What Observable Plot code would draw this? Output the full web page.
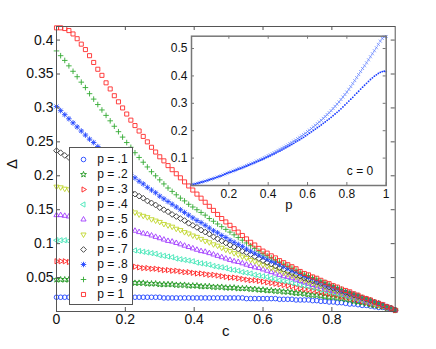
<!DOCTYPE html>
<html>
<head>
<meta charset="utf-8">
<script src="https://cdn.jsdelivr.net/npm/d3@7"></script>
<script src="https://cdn.jsdelivr.net/npm/@observablehq/plot@0.6"></script>
<style>
  html, body { margin: 0; padding: 0; background: white; }
  #wrap { position: relative; width: 436px; height: 349px; overflow: hidden; font-family: "Liberation Sans", Arial, sans-serif; }
  #wrap svg { position: absolute; }
</style>
</head>
<body>
<div id="wrap"></div>
<script>
// ---------------- data ----------------
const cValues = [0,.012,.024,.036,.048,.06,.072,.084,.096,.108,.12,.132,.144,.156,.168,.18,.192,.204,.216,.228,.24,.252,.264,.276,.288,.3,.312,.324,.336,.348,.36,.372,.384,.396,.408,.42,.432,.444,.456,.468,.48,.492,.504,.516,.528,.54,.552,.564,.576,.588,.6,.612,.624,.636,.648,.66,.672,.684,.696,.708,.72,.732,.744,.756,.768,.78,.792,.804,.816,.828,.84,.852,.864,.876,.888,.9,.912,.924,.936,.948,.96,.972,.984];

const deltaP01 = [.021,.021,.021,.021,.021,.021,.021,.021,.021,.021,.021, .021,.021,.021,.021,.021,.021,.021,.021,.021,.021, .021,.021,.021,.021,.021,.020,.020,.020,.020,.020, .020,.020,.020,.020,.020,.020,.020,.020,.020,.020, .020,.020,.020,.020,.020,.019,.019,.019,.019,.019, .019,.019,.019,.018,.018,.018,.018,.017,.017,.017, .017,.016,.016,.015,.015,.014,.014,.013,.013,.012, .011,.011,.010,.009,.009,.008,.007,.006,.006,.005,.003,.002];
const deltaP02 = [.047,.047,.047,.047,.046,.046,.046,.046,.046,.045,.045, .045,.045,.044,.044,.044,.043,.043,.043,.042,.042, .042,.041,.041,.041,.040,.040,.040,.040,.039,.039, .039,.038,.038,.038,.037,.037,.037,.036,.036,.036, .035,.035,.035,.034,.034,.034,.033,.033,.032,.032, .031,.031,.030,.030,.029,.029,.028,.027,.027,.026, .025,.024,.024,.023,.022,.021,.021,.020,.019,.018, .017,.015,.014,.013,.012,.010,.009,.008,.007,.005,.004,.002];
const deltaP03 = [.074,.074,.074,.073,.073,.073,.072,.072,.072,.071,.071, .070,.070,.069,.069,.068,.068,.067,.066,.066,.065, .064,.064,.063,.063,.062,.061,.061,.060,.060,.059, .058,.058,.057,.056,.056,.055,.054,.054,.053,.052, .051,.050,.050,.049,.048,.047,.046,.046,.045,.044, .043,.042,.041,.040,.039,.038,.037,.035,.034,.033, .032,.031,.030,.028,.027,.026,.025,.024,.022,.021, .020,.018,.017,.015,.014,.012,.011,.009,.008,.006,.004,.002];
const deltaP04 = [.105,.105,.105,.104,.104,.103,.103,.102,.101,.101,.100, .099,.098,.097,.096,.095,.094,.093,.092,.090,.089, .088,.087,.086,.085,.083,.082,.081,.080,.078,.077, .076,.075,.074,.072,.071,.070,.069,.067,.066,.065, .064,.062,.061,.060,.058,.057,.056,.054,.053,.052, .051,.049,.048,.046,.045,.044,.042,.041,.039,.038, .037,.035,.034,.032,.031,.029,.028,.026,.025,.023, .021,.020,.018,.016,.015,.013,.011,.010,.008,.006,.004,.002];
const deltaP05 = [.142,.142,.141,.140,.140,.139,.138,.137,.136,.134,.133, .132,.130,.129,.127,.126,.124,.122,.121,.119,.117, .115,.114,.112,.110,.108,.106,.104,.103,.101,.099, .097,.095,.093,.091,.089,.088,.086,.084,.082,.080, .078,.076,.074,.073,.071,.069,.067,.065,.064,.062, .060,.058,.056,.054,.052,.051,.049,.047,.045,.043, .041,.039,.038,.036,.034,.032,.030,.029,.027,.025, .023,.021,.019,.017,.015,.013,.012,.010,.008,.006,.004,.002];
const deltaP06 = [.184,.183,.181,.180,.178,.177,.175,.174,.172,.170,.169, .166,.164,.161,.158,.156,.153,.151,.148,.146,.143, .141,.139,.136,.134,.132,.129,.127,.125,.122,.120, .117,.115,.112,.110,.107,.104,.102,.099,.097,.094, .091,.089,.086,.084,.081,.079,.076,.074,.071,.069, .067,.064,.062,.060,.057,.055,.053,.051,.048,.046, .044,.042,.040,.038,.036,.034,.032,.030,.028,.026, .024,.022,.020,.018,.016,.014,.012,.010,.008,.006,.004,.002];
const deltaP07 = [.237,.234,.230,.227,.223,.220,.217,.213,.210,.206,.203, .200,.196,.193,.190,.186,.183,.180,.176,.173,.170, .167,.163,.160,.157,.153,.150,.147,.143,.140,.137, .134,.130,.127,.124,.120,.117,.114,.110,.107,.104, .101,.098,.095,.092,.089,.087,.084,.081,.078,.075, .072,.070,.067,.064,.062,.059,.057,.054,.052,.049, .047,.045,.043,.041,.038,.036,.034,.032,.030,.028, .026,.024,.022,.020,.018,.016,.014,.012,.009,.007,.005,.002];
const deltaP08 = [.302,.296,.290,.284,.278,.272,.266,.260,.254,.249,.243, .238,.232,.227,.222,.217,.212,.207,.202,.197,.192, .188,.183,.179,.175,.170,.166,.162,.158,.154,.150, .146,.142,.138,.134,.131,.127,.123,.119,.116,.112, .109,.105,.102,.099,.096,.092,.089,.086,.083,.080, .077,.074,.072,.069,.066,.063,.060,.058,.055,.052, .050,.048,.045,.043,.040,.038,.036,.034,.031,.029, .027,.025,.023,.020,.018,.016,.014,.012,.010,.007,.005,.002];
const deltaP09 = [.384,.377,.370,.362,.354,.346,.338,.330,.321,.313,.305, .297,.289,.281,.273,.265,.257,.249,.242,.234,.227, .220,.213,.206,.200,.194,.188,.182,.177,.172,.167, .163,.158,.154,.150,.146,.142,.137,.133,.129,.125, .121,.117,.113,.109,.105,.101,.097,.093,.089,.085, .082,.079,.076,.073,.070,.067,.064,.061,.058,.055, .053,.050,.048,.045,.043,.040,.038,.035,.033,.030, .028,.026,.024,.021,.019,.017,.014,.012,.010,.007,.005,.002];
const deltaP10 = [.418,.418,.417,.414,.409,.402,.394,.386,.377,.367,.357, .348,.337,.328,.318,.309,.300,.291,.282,.274,.266, .258,.250,.242,.235,.228,.222,.215,.209,.203,.197, .191,.185,.179,.173,.167,.161,.155,.149,.143,.137, .132,.127,.122,.117,.112,.107,.102,.098,.093,.089, .086,.082,.079,.075,.072,.069,.066,.063,.059,.056, .054,.051,.049,.046,.043,.041,.038,.036,.033,.031, .029,.026,.024,.021,.019,.017,.014,.012,.010,.007,.005,.002];

const seriesLabels = ["p = .1","p = .2","p = .3","p = .4","p = .5","p = .6","p = .7","p = .8","p = .9","p = 1"];
const seriesValues = [deltaP01, deltaP02, deltaP03, deltaP04, deltaP05, deltaP06, deltaP07, deltaP08, deltaP09, deltaP10];
const seriesColors = ["#2346ff","#229922","#ff2222","#44e6b8","#a23cff","#bfd62a","#3a3a3a","#2346ff","#33aa33","#ff2a2a"];
const seriesMarkers = ["circle","pentagram","triRight","triLeft","triUp","triDown","diamond","asterisk","plus","square"];

const mainXTicks = [0, 0.2, 0.4, 0.6, 0.8];
const mainYTicks = [0.05, 0.1, 0.15, 0.2, 0.25, 0.3, 0.35, 0.4];

// inset: Delta vs p at c = 0
const pValues = [.01,.02,.03,.04,.05,.06,.07,.08,.09,.10,.11,.12,.13,.14,.15,.16,.17,.18,.19,.20,.21,.22,.23,.24,.25,.26,.27,.28,.29,.30,.31,.32,.33,.34,.35,.36,.37,.38,.39,.40,.41,.42,.43,.44,.45,.46,.47,.48,.49,.50,.51,.52,.53,.54,.55,.56,.57,.58,.59,.60,.61,.62,.63,.64,.65,.66,.67,.68,.69,.70,.71,.72,.73,.74,.75,.76,.77,.78,.79,.80,.81,.82,.83,.84,.85,.86,.87,.88,.89,.90,.91,.92,.93,.94,.95,.96,.97,.98,.99,1];
const insetLower = [.002,.004,.006,.008,.010,.012,.014,.016,.018,.021, .023,.025,.028,.030,.033,.035,.038,.041,.044,.047, .049,.052,.054,.057,.060,.062,.065,.068,.071,.074, .077,.080,.083,.086,.089,.092,.095,.098,.102,.105, .108,.112,.115,.119,.123,.126,.130,.134,.138,.142, .146,.150,.154,.159,.163,.167,.172,.176,.181,.186, .191,.196,.201,.206,.211,.216,.221,.227,.232,.238, .243,.249,.255,.261,.267,.273,.280,.287,.294,.301, .308,.315,.322,.330,.337,.344,.352,.359,.366,.373, .380,.387,.393,.399,.404,.409,.413,.416,.417,.416];
const insetUpper = [.002,.004,.006,.008,.010,.012,.014,.016,.019,.021, .023,.026,.028,.031,.033,.036,.039,.042,.045,.048, .050,.053,.056,.059,.062,.064,.067,.070,.073,.076, .079,.082,.085,.089,.092,.095,.098,.102,.105,.109, .112,.116,.120,.124,.128,.132,.136,.140,.144,.148, .153,.157,.162,.166,.171,.176,.181,.186,.191,.197, .202,.208,.214,.220,.226,.232,.238,.245,.252,.259, .266,.273,.281,.289,.297,.305,.314,.323,.332,.341, .351,.361,.372,.383,.394,.405,.416,.427,.437,.448, .459,.470,.481,.492,.503,.515,.527,.537,.543,.544];
const insetXTicks = [0.2, 0.4, 0.6, 0.8, 1];
const insetYTicks = [0.1, 0.2, 0.3, 0.4, 0.5];

// ---------------- marker shapes ----------------
function poly(angles, k) {
  return { draw(ctx, size) {
    const R = Math.sqrt(size / Math.PI) * k;
    angles.forEach((a, i) => {
      const t = a * Math.PI / 180, x = R * Math.cos(t), y = R * Math.sin(t);
      i ? ctx.lineTo(x, y) : ctx.moveTo(x, y);
    });
    ctx.closePath();
  }};
}
const symbols = {
  circle: "circle",
  triUp: poly([-90, 30, 150], 1.3),
  triDown: poly([90, 210, 330], 1.3),
  triRight: poly([0, 120, 240], 1.3),
  triLeft: poly([180, 300, 60], 1.3),
  diamond: poly([-90, 0, 90, 180], 1.25),
  square: poly([-45, 45, 135, 225], 1.25),
  pentagram: { draw(ctx, size) {
    const R = Math.sqrt(size / Math.PI) * 1.35, r = R * 0.4;
    for (let i = 0; i < 10; i++) {
      const t = (-90 + i * 36) * Math.PI / 180, rr = i % 2 ? r : R;
      i ? ctx.lineTo(rr * Math.cos(t), rr * Math.sin(t)) : ctx.moveTo(rr * Math.cos(t), rr * Math.sin(t));
    }
    ctx.closePath();
  }},
  plus: { draw(ctx, size) {
    const R = Math.sqrt(size / Math.PI) * 1.2;
    ctx.moveTo(-R, 0); ctx.lineTo(R, 0); ctx.moveTo(0, -R); ctx.lineTo(0, R);
  }},
  asterisk: { draw(ctx, size) {
    const R = Math.sqrt(size / Math.PI) * 1.2, d = R * 0.72;
    ctx.moveTo(-R, 0); ctx.lineTo(R, 0); ctx.moveTo(0, -R); ctx.lineTo(0, R);
    ctx.moveTo(-d, -d); ctx.lineTo(d, d); ctx.moveTo(-d, d); ctx.lineTo(d, -d);
  }},
  times: { draw(ctx, size) {
    const R = Math.sqrt(size / Math.PI);
    ctx.moveTo(-R, -R); ctx.lineTo(R, R); ctx.moveTo(-R, R); ctx.lineTo(R, -R);
  }}
};

const FONT = '"Liberation Sans", Arial, Helvetica, sans-serif';
const fmt = d => String(d);
const AX = "#555";

// ---------------- main chart ----------------
const W = 436, H = 349, mL = 56, mR = 41.3, mT = 26, mB = 38;
const innerW = W - mL - mR, innerH = H - mT - mB;

const mainMarks = [];
seriesValues.forEach((vals, k) => {
  mainMarks.push(Plot.dot(cValues, {
    x: cValues, y: vals, symbol: symbols[seriesMarkers[k]], r: 2.3,
    stroke: seriesColors[k], fill: "none", strokeWidth: 0.9
  }));
});
mainMarks.push(
  Plot.tickX(mainXTicks, {x: d => d, insetTop: innerH - 4, stroke: AX}),
  Plot.tickX(mainXTicks, {x: d => d, insetBottom: innerH - 4, stroke: AX}),
  Plot.tickY(mainYTicks, {y: d => d, insetRight: innerW - 4, stroke: AX}),
  Plot.tickY(mainYTicks, {y: d => d, insetLeft: innerW - 4, stroke: AX}),
  Plot.frame({stroke: AX}),
  Plot.axisX(mainXTicks, {anchor: "bottom", tickSize: 0, tickPadding: 3, tickFormat: fmt, fontSize: 14, label: null, fill: "#111"}),
  Plot.axisY(mainYTicks, {anchor: "left", tickSize: 0, tickPadding: 3, tickFormat: fmt, fontSize: 14, label: null, fill: "#111"}),
  Plot.text(["c"], {frameAnchor: "bottom", dy: 24, fontSize: 15, fill: "#111"}),
  Plot.text(["Δ"], {frameAnchor: "left", dx: -44, rotate: -90, fontSize: 15, fill: "#111"})
);

const main = Plot.plot({
  width: W, height: H, marginLeft: mL, marginRight: mR, marginTop: mT, marginBottom: mB,
  x: {domain: [0, 0.984]},
  y: {domain: [0, 0.42]},
  style: {fontFamily: FONT, fontSize: "14px", background: "white", overflow: "visible"},
  marks: mainMarks
});
main.style.left = "0px"; main.style.top = "0px";
document.getElementById("wrap").appendChild(main);

// ---------------- inset ----------------
const iW = 255, iH = 190, iL = 50, iR = 10.3, iT = 5.7, iB = 35;
const iInW = iW - iL - iR, iInH = iH - iT - iB;
const IAX = "#777";
const inset = Plot.plot({
  width: iW, height: iH, marginLeft: iL, marginRight: iR, marginTop: iT, marginBottom: iB,
  x: {domain: [0.01, 1]},
  y: {domain: [0, 0.545]},
  style: {fontFamily: FONT, fontSize: "12px", background: "transparent", overflow: "visible"},
  marks: [
    Plot.frame({fill: "white", stroke: "none"}),
    Plot.dot(pValues, {x: pValues, y: insetUpper, symbol: symbols.times, r: 1.5, stroke: "#5577ff", fill: "none", strokeWidth: 0.7}),
    Plot.dot(pValues, {x: pValues, y: insetLower, r: 0.9, fill: "#1a3cff", stroke: "none"}),
    Plot.tickX(insetXTicks, {x: d => d, insetTop: iInH - 3, stroke: IAX}),
    Plot.tickX(insetXTicks, {x: d => d, insetBottom: iInH - 3, stroke: IAX}),
    Plot.tickY(insetYTicks, {y: d => d, insetRight: iInW - 3, stroke: IAX}),
    Plot.tickY(insetYTicks, {y: d => d, insetLeft: iInW - 3, stroke: IAX}),
    Plot.frame({stroke: IAX, strokeWidth: 1.5}),
    Plot.axisX(insetXTicks, {anchor: "bottom", tickSize: 0, tickPadding: 4, tickFormat: fmt, fontSize: 12, label: null, fill: "#111"}),
    Plot.axisY(insetYTicks, {anchor: "left", tickSize: 0, tickPadding: 4, tickFormat: fmt, fontSize: 12, label: null, fill: "#111"}),
    Plot.text(["p"], {frameAnchor: "bottom", dy: 23, fontSize: 13, fill: "#111"}),
    Plot.text(["c = 0"], {frameAnchor: "bottom-right", dx: -13, dy: -11, textAnchor: "end", fontSize: 12, fill: "#111"})
  ]
});
inset.style.left = "141px"; inset.style.top = "30px";
document.getElementById("wrap").appendChild(inset);

// ---------------- legend ----------------
const lW = 62, lH = 156;
const legendMarks = [];
seriesLabels.forEach((lab, k) => {
  legendMarks.push(Plot.dot([lab], {x: () => 0, y: d => d, symbol: symbols[seriesMarkers[k]], r: 2.3,
    stroke: seriesColors[k], fill: "none", strokeWidth: 0.9}));
});
legendMarks.push(Plot.text(seriesLabels, {x: () => 1, y: d => d, text: d => d, textAnchor: "start", fontSize: 12, fill: "#111"}));
const legend = Plot.plot({
  width: lW, height: lH, marginLeft: 13, marginRight: lW - 26.7, marginTop: 9.3, marginBottom: 9,
  x: {domain: [0, 1], axis: null},
  y: {domain: seriesLabels, type: "point", padding: 0, axis: null},
  style: {fontFamily: FONT, fontSize: "12px", background: "white", overflow: "visible", border: "1px solid #555"},
  marks: legendMarks
});
legend.style.left = "69px"; legend.style.top = "147px";
document.getElementById("wrap").appendChild(legend);
</script>
</body>
</html>
